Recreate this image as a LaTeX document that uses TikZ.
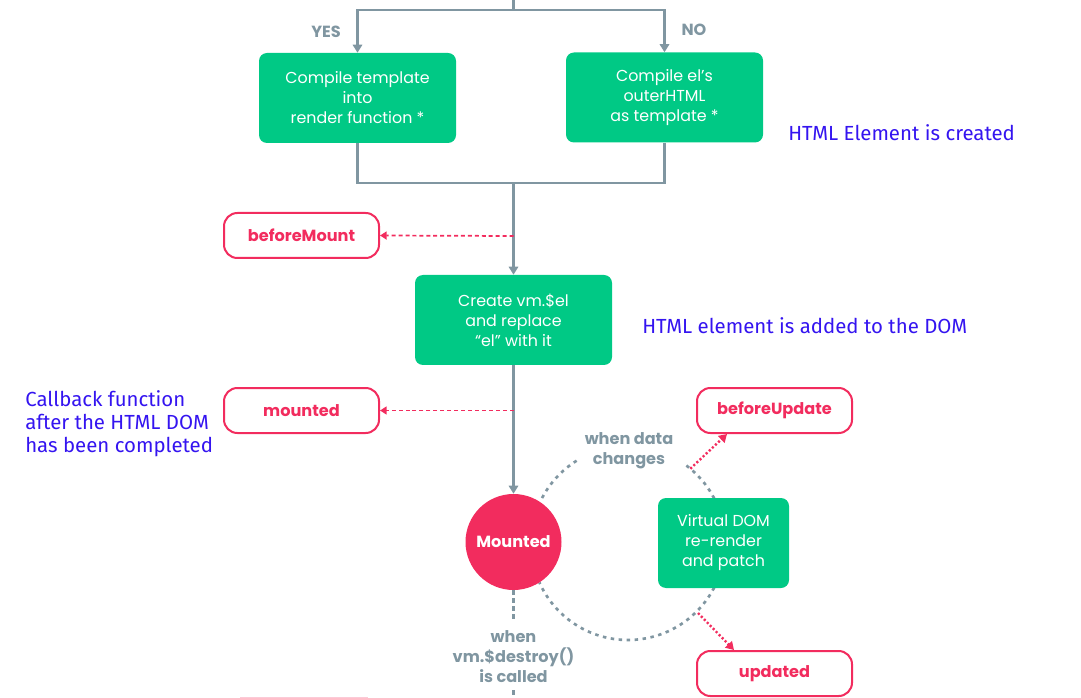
\documentclass[tikz,border=0pt]{standalone}
\usepackage{fontspec}
\setmainfont{Poppins}
\newfontfamily\annfont{Fira Sans}
\usetikzlibrary{arrows.meta,calc}
\definecolor{vgreen}{RGB}{0,201,133}
\definecolor{vgray}{RGB}{128,150,161}
\definecolor{vpink}{RGB}{242,44,94}
\definecolor{vblue}{RGB}{52,20,240}
\begin{document}
\begin{tikzpicture}[x=0.75pt,y=-0.75pt,
  greenbox/.style={fill=vgreen, rounded corners=6pt, text=white, align=center,
    font=\fontsize{11.9}{15}\selectfont, minimum width=147.75pt, minimum height=67.5pt, inner sep=0pt},
  hookbox/.style={draw=vpink, line width=1.5pt, fill=white, rounded corners=10pt, text=vpink,
    font=\bfseries\fontsize{12.1}{13}\selectfont, minimum width=116.25pt, minimum height=33.75pt, inner sep=0pt},
  graylabel/.style={text=vgray, font=\bfseries\fontsize{12.1}{15}\selectfont, align=center, inner sep=0pt},
  annot/.style={text=vblue, font=\annfont\fontsize{15.3}{17.25}\selectfont, align=left, inner sep=0pt},
  gline/.style={draw=vgray, line width=1.8pt},
  garrow/.style={gline, -{Triangle[length=6pt,width=7pt]}},
  pdash/.style={draw=vpink, line width=1.3pt, dash pattern=on 3pt off 2.2pt, -{Triangle[length=5pt,width=6pt]}},
  pdot/.style={draw=vpink, line width=1.8pt, dash pattern=on 1.6pt off 1.6pt, -{Triangle[length=6pt,width=7pt]}},
  gdot/.style={draw=vgray, line width=2pt, dash pattern=on 2.6pt off 3.4pt},
]
\useasboundingbox (0,0) rectangle (1081,698);

% top split
\coordinate (top) at (513.5,0);
\node[greenbox] (c1) at (357.5,98) {Compile template\\into\\render function *};
\node[greenbox] (c2) at (664.5,97.5) {Compile el’s\\outerHTML\\as template *};
\draw[garrow] (top) -- ++(0,10) -| (c1.north);
\draw[garrow] (top) -- ++(0,10) -| (c2.north);
\node[graylabel] (yes) at (326,32) {YES};
\node[graylabel] (no) at (694,30) {NO};

% merge
\coordinate (merge) at (513.5,183);
\node[greenbox] (create) at (513.5,320) {Create vm.\$el\\and replace\\“el” with it};
\draw[gline] (c1.south) |- (merge);
\draw[gline] (c2.south) |- (merge);
\draw[garrow] (merge) -- (create.north);

% beforeMount
\node[hookbox] (bmount) at (301.5,235.5) {beforeMount};
\coordinate (bmsrc) at (513.5,236);
\draw[pdash] (bmsrc) -- (bmount.east);

% Mounted circle and cycle
\coordinate (cc) at (628,543);
\draw[gdot] ($(cc)+(207.6:97)$) arc[start angle=207.6, end angle=238, radius=97];
\draw[gdot] ($(cc)+(-53:97)$) arc[start angle=-53, end angle=156, radius=97];

\node[circle, fill=vpink, minimum size=72pt, inner sep=0pt, text=white,
  font=\bfseries\fontsize{12.1}{13}\selectfont] (mc) at (513.5,542) {Mounted};
\draw[garrow] (create.south) -- (mc.north);

\node[hookbox] (mounted) at (301.5,410.5) {mounted};
\coordinate (msrc) at (513.5,410.5);
\draw[pdash] (msrc) -- (mounted.east);

\node[greenbox, minimum width=98.25pt] (vdom) at (723.5,543) {Virtual DOM\\re-render\\and patch};

\node[graylabel] (wdc) at (629,450.5) {when data\\changes};

\node[hookbox] (bu) at (774.5,410.5) {beforeUpdate};
\node[hookbox] (upd) at (774.5,673.5) {updated};
\draw[pdot] ($(cc)+(-50:97)$) -- ($(bu.south west)+(31,0)$);
\draw[pdot] ($(cc)+(45:99)$) -- ($(upd.north west)+(38,0)$);

% destroy
\coordinate (dend) at (513.5,620);
\draw[gline, dash pattern=on 3.5pt off 2.5pt] (mc.south) -- (dend);
\node[graylabel] (destroy) at (513.5,656.5) {when\\vm.\$destroy()\\is called};
\coordinate (d2a) at (513.5,690);
\coordinate (d2b) at (513.5,698);
\draw[gline, dash pattern=on 3.5pt off 2.5pt] (d2a) -- (d2b);
\coordinate (fa) at (240,697.5);
\coordinate (fb) at (368,697.5);
\draw[vpink!25, line width=1pt] (fa) -- (fb);

% annotations
\node[annot, anchor=west] (a1) at (788,133) {HTML Element is created};
\node[annot, anchor=west] (a2) at (642,326) {HTML element is added to the DOM};
\node[annot, anchor=west] (a3) at (25,424) {Callback function\\after the HTML DOM\\has been completed};
\end{tikzpicture}
\end{document}
